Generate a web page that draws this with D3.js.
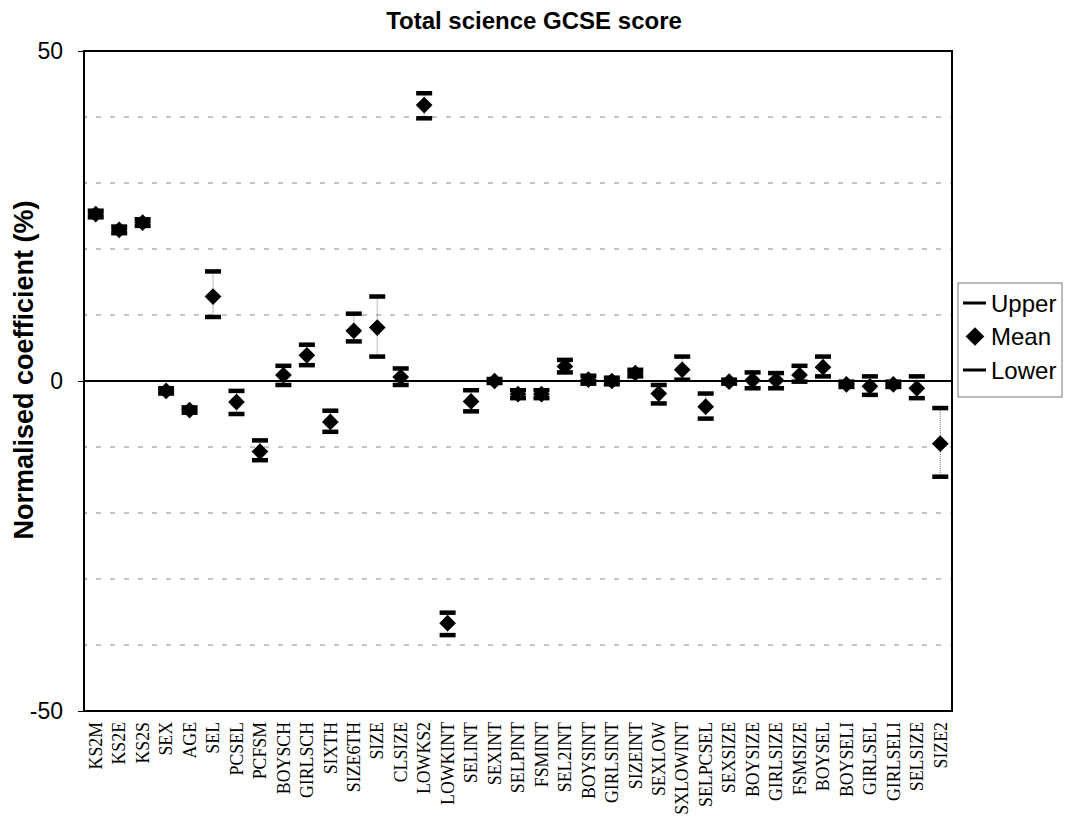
<!DOCTYPE html>
<html>
<head>
<meta charset="utf-8">
<script src="https://cdn.jsdelivr.net/npm/d3@7"></script>
<style>
body{margin:0;background:#fff;}
</style>
</head>
<body>
<div id="chart"></div>
<script>
//chart data
var categories = ["KS2M","KS2E","KS2S","SEX","AGE","SEL","PCSEL","PCFSM","BOYSCH","GIRLSCH",
	"SIXTH","SIZE6TH","SIZE","CLSIZE","LOWKS2","LOWKINT","SELINT","SEXINT","SELPINT","FSMINT",
	"SEL2INT","BOYSINT","GIRLSINT","SIZEINT","SEXLOW","SXLOWINT","SELPCSEL","SEXSIZE","BOYSIZE",
	"GIRLSIZE","FSMSIZE","BOYSEL","BOYSELI","GIRLSEL","GIRLSELI","SELSIZE","SIZE2"];
var meanValues = [25.3,22.9,24.0,-1.5,-4.4,12.8,-3.2,-10.7,0.9,3.9,
	-6.2,7.6,8.1,0.6,41.8,-36.7,-3.1,0.0,-2.0,-2.0,
	2.2,0.2,0.0,1.2,-1.9,1.7,-3.9,-0.1,0.1,
	0.1,0.9,2.1,-0.5,-0.8,-0.5,-1.1,-9.5];
var upperValues = [25.8,23.4,24.5,-1.1,-4.0,16.6,-1.5,-9.0,2.3,5.5,
	-4.5,10.2,12.8,1.9,43.6,-35.1,-1.4,0.3,-1.4,-1.4,
	3.2,0.8,0.5,1.7,-0.6,3.7,-1.9,0.2,1.3,
	1.2,2.3,3.7,-0.1,0.7,-0.1,0.7,-4.1];
var lowerValues = [24.8,22.4,23.5,-1.9,-4.8,9.7,-5.0,-12.0,-0.6,2.4,
	-7.7,6.0,3.7,-0.6,39.8,-38.5,-4.6,-0.3,-2.6,-2.6,
	1.3,-0.4,-0.5,0.7,-3.4,0.2,-5.7,-0.4,-1.1,
	-1.1,-0.1,0.7,-0.9,-2.1,-0.9,-2.6,-14.5];
var yTicks = [-50,0,50];
var gridTicks = [-40,-30,-20,-10,10,20,30,40];
var legendItems = ["Upper","Mean","Lower"];

function drawChart(){
	var width = 1067, height = 818;
	var plotLeft = 84, plotRight = 952, plotTop = 51, plotBottom = 711;

	var svg = d3.select("#chart").append("svg")
		.attr("width", width)
		.attr("height", height);

	var x = d3.scaleBand().domain(categories).range([plotLeft, plotRight]);
	var y = d3.scaleLinear().domain([-50, 50]).range([plotBottom, plotTop]);

	//dashed grid lines
	svg.append("g").attr("class", "grid")
		.selectAll("line").data(gridTicks).enter().append("line")
		.attr("x1", plotLeft + 12)
		.attr("x2", plotRight)
		.attr("y1", function(d){return y(d);})
		.attr("y2", function(d){return y(d);})
		.attr("stroke", "#888")
		.attr("stroke-width", 1)
		.attr("stroke-dasharray", "5,9");

	//minor ticks on the y axis
	svg.append("g").selectAll("line").data(d3.range(-50, 51, 10)).enter().append("line")
		.attr("x1", plotLeft)
		.attr("x2", plotLeft + 3)
		.attr("y1", function(d){return y(d);})
		.attr("y2", function(d){return y(d);})
		.attr("stroke", "#555");

	//frame of the plot area
	svg.append("rect")
		.attr("x", plotLeft).attr("y", plotTop)
		.attr("width", plotRight - plotLeft).attr("height", plotBottom - plotTop)
		.attr("fill", "none")
		.attr("stroke", "#000")
		.attr("stroke-width", 2);

	//zero line
	svg.append("line")
		.attr("x1", plotLeft).attr("x2", plotRight)
		.attr("y1", y(0)).attr("y2", y(0))
		.attr("stroke", "#000")
		.attr("stroke-width", 2);

	//y axis
	var yAxis = d3.axisLeft(y).tickValues(yTicks).tickSize(6).tickPadding(15)
		.tickFormat(function(d){return String(d);});
	var yAxisGroup = svg.append("g").attr("transform", "translate(" + plotLeft + ",0)").call(yAxis);
	yAxisGroup.select(".domain").remove();
	yAxisGroup.selectAll("text")
		.style("font-family", "Liberation Sans, Arial, sans-serif")
		.style("font-size", "23px")
		.attr("fill", "#000");

	//x axis labels, rotated
	var xAxis = d3.axisBottom(x).tickSize(0).tickPadding(0);
	var xAxisGroup = svg.append("g").attr("transform", "translate(0," + plotBottom + ")").call(xAxis);
	xAxisGroup.select(".domain").remove();
	xAxisGroup.selectAll("text")
		.attr("transform", "rotate(-90)")
		.attr("x", -11)
		.attr("y", 0)
		.attr("dy", "0.35em")
		.style("text-anchor", "end")
		.style("font-family", "Liberation Serif, Times New Roman, serif")
		.style("font-size", "17.8px")
		.attr("fill", "#000");

	//error bars
	var cx = function(i){return x(categories[i]) + x.bandwidth()/2;};
	var points = svg.append("g").attr("class", "points");

	points.selectAll("line.err").data(meanValues).enter().append("line")
		.attr("class", "err")
		.attr("x1", function(d, i){return cx(i);})
		.attr("x2", function(d, i){return cx(i);})
		.attr("y1", function(d, i){return y(upperValues[i]);})
		.attr("y2", function(d, i){return y(lowerValues[i]);})
		.attr("stroke", "#777")
		.attr("stroke-width", 1)
		.attr("stroke-dasharray", "1,1");

	var capW = 16, capH = 4.5;
	points.selectAll("rect.upper").data(upperValues).enter().append("rect")
		.attr("class", "upper")
		.attr("x", function(d, i){return cx(i) - capW/2;})
		.attr("y", function(d){return y(d) - capH/2;})
		.attr("width", capW).attr("height", capH)
		.attr("fill", "#000");

	points.selectAll("rect.lower").data(lowerValues).enter().append("rect")
		.attr("class", "lower")
		.attr("x", function(d, i){return cx(i) - capW/2;})
		.attr("y", function(d){return y(d) - capH/2;})
		.attr("width", capW).attr("height", capH)
		.attr("fill", "#000");

	//mean diamonds
	var diamond = d3.symbol().type(d3.symbolSquare).size(140);
	points.selectAll("path.mean").data(meanValues).enter().append("path")
		.attr("class", "mean")
		.attr("d", diamond)
		.attr("transform", function(d, i){return "translate(" + cx(i) + "," + y(d) + ") rotate(45)";})
		.attr("fill", "#000");

	//title, centred over the whole chart area
	svg.append("text")
		.attr("x", 534).attr("y", 29)
		.attr("text-anchor", "middle")
		.style("font-family", "Liberation Sans, Arial, sans-serif")
		.style("font-weight", "bold")
		.style("font-size", "24px")
		.text("Total science GCSE score");

	//y axis title
	svg.append("text")
		.attr("transform", "translate(24,370) rotate(-90)")
		.attr("text-anchor", "middle")
		.attr("dy", "0.35em")
		.style("font-family", "Liberation Sans, Arial, sans-serif")
		.style("font-weight", "bold")
		.style("font-size", "27px")
		.text("Normalised coefficient (%)");

	//legend
	var legend = svg.append("g").attr("class", "legend");
	legend.append("rect")
		.attr("x", 958).attr("y", 283)
		.attr("width", 104).attr("height", 114)
		.attr("fill", "#fff")
		.attr("stroke", "#777")
		.attr("stroke-width", 1);

	var legendY = d3.scalePoint().domain(legendItems).range([303, 370]);
	legendItems.forEach(function(name){
		var ly = legendY(name);
		if(name === "Mean"){
			legend.append("path")
				.attr("d", d3.symbol().type(d3.symbolSquare).size(175))
				.attr("transform", "translate(975," + ly + ") rotate(45)")
				.attr("fill", "#000");
		}
		else{
			legend.append("rect")
				.attr("x", 963).attr("y", ly - 1.5)
				.attr("width", 23).attr("height", 3)
				.attr("fill", "#000");
		}
		legend.append("text")
			.attr("x", 991).attr("y", ly)
			.attr("dy", "0.36em")
			.style("font-family", "Liberation Sans, Arial, sans-serif")
			.style("font-size", "24px")
			.text(name);
	});
}

drawChart();
</script>
</body>
</html>
